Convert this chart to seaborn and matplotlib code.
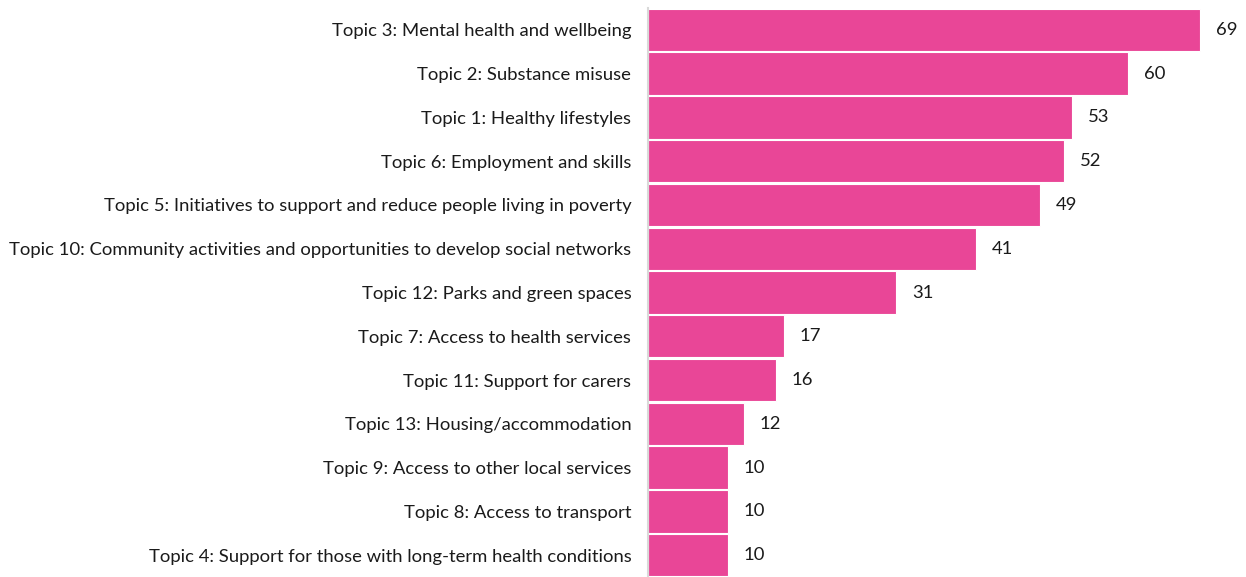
import matplotlib
matplotlib.use("Agg")
import matplotlib.pyplot as plt
import seaborn as sns
import pandas as pd

topics = [
    "Topic 3: Mental health and wellbeing",
    "Topic 2: Substance misuse",
    "Topic 1: Healthy lifestyles",
    "Topic 6: Employment and skills",
    "Topic 5: Initiatives to support and reduce people living in poverty",
    "Topic 10: Community activities and opportunities to develop social networks",
    "Topic 12: Parks and green spaces",
    "Topic 7: Access to health services",
    "Topic 11: Support for carers",
    "Topic 13: Housing/accommodation",
    "Topic 9: Access to other local services",
    "Topic 8: Access to transport",
    "Topic 4: Support for those with long-term health conditions",
]
counts = [69, 60, 53, 52, 49, 41, 31, 17, 16, 12, 10, 10, 10]

df = pd.DataFrame({"topic": topics, "count": counts})

sns.set_theme(style="white")
plt.rcParams["font.family"] = ["Lato", "DejaVu Sans"]

fig = plt.figure(figsize=(12.46, 5.77), dpi=100)
ax = fig.add_axes([648 / 1246, 0.0, 1 - 648 / 1246, 1 - 8 / 577])

sns.barplot(data=df, x="count", y="topic", color="#E94697", saturation=1,
            width=0.97, edgecolor="white", linewidth=0.8, ax=ax, orient="h")

for i, v in enumerate(counts):
    ax.text(v + 2.0, i, str(v), va="center", ha="left", fontsize=13.3, color="#1a1a1a")

ax.set_xlim(0, (1246 - 648) / 8)
ax.set_ylim(len(topics) - 0.5, -0.5)
ax.set_xlabel("")
ax.set_ylabel("")
ax.set_xticks([])
ax.tick_params(axis="y", length=0, pad=12, labelsize=13.3, labelcolor="#1a1a1a")
for s in ["top", "right", "bottom"]:
    ax.spines[s].set_visible(False)
ax.spines["left"].set_color("#d9d9d9")
ax.spines["left"].set_linewidth(1.5)

fig.savefig("out.png", dpi=100)
